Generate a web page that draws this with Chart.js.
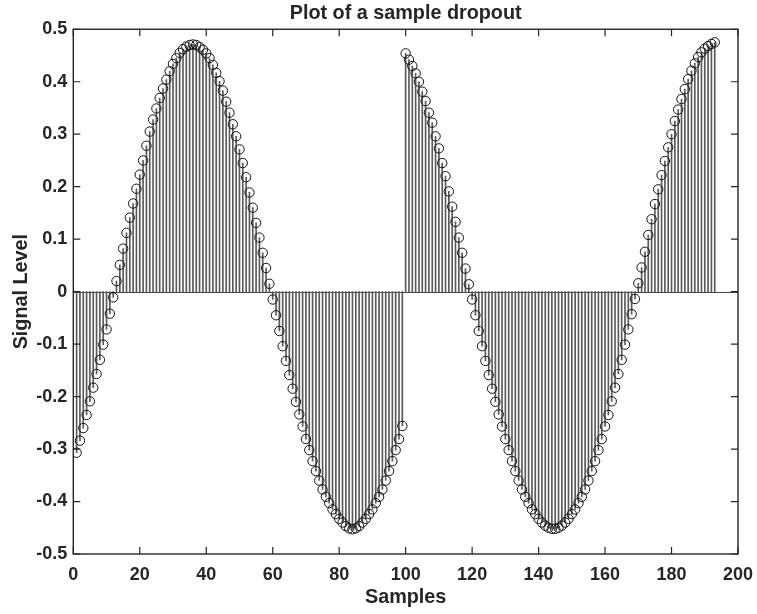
<!DOCTYPE html>
<html><head><meta charset="utf-8">
<script src="https://cdn.jsdelivr.net/npm/chart.js@4.4.1/dist/chart.umd.min.js"></script>
<style>html,body{margin:0;padding:0;background:#fff}#wrap{width:757px;height:614px}</style>
</head><body><div id="wrap"><canvas id="c" width="757" height="614"></canvas></div>
<script>
const samples = [1,2,3,4,5,6,7,8,9,10,11,12,13,14,15,16,17,18,19,20,21,22,23,24,25,26,27,28,29,30,31,32,33,34,35,36,37,38,39,40,41,42,43,44,45,46,47,48,49,50,51,52,53,54,55,56,57,58,59,60,61,62,63,64,65,66,67,68,69,70,71,72,73,74,75,76,77,78,79,80,81,82,83,84,85,86,87,88,89,90,91,92,93,94,95,96,97,98,99,100,101,102,103,104,105,106,107,108,109,110,111,112,113,114,115,116,117,118,119,120,121,122,123,124,125,126,127,128,129,130,131,132,133,134,135,136,137,138,139,140,141,142,143,144,145,146,147,148,149,150,151,152,153,154,155,156,157,158,159,160,161,162,163,164,165,166,167,168,169,170,171,172,173,174,175,176,177,178,179,180,181,182,183,184,185,186,187,188,189,190,191,192,193];
const signal = [
-0.307,-0.284,-0.260,-0.235,-0.209,-0.183,-0.157,-0.130,-0.101,-0.072,
-0.042,-0.011,0.020,0.051,0.082,0.112,0.141,0.168,0.196,0.223,
0.250,0.278,0.305,0.328,0.349,0.369,0.387,0.404,0.420,0.434,
0.445,0.455,0.462,0.467,0.470,0.471,0.470,0.466,0.461,0.454,
0.445,0.432,0.417,0.401,0.383,0.362,0.341,0.319,0.296,0.271,
0.245,0.218,0.189,0.160,0.131,0.103,0.074,0.045,0.015,-0.015,
-0.045,-0.075,-0.104,-0.132,-0.159,-0.185,-0.210,-0.234,-0.257,-0.281,
-0.302,-0.323,-0.342,-0.360,-0.377,-0.391,-0.403,-0.415,-0.424,-0.433,
-0.440,-0.447,-0.451,-0.453,-0.451,-0.447,-0.440,-0.433,-0.424,-0.415,
-0.403,-0.391,-0.377,-0.360,-0.342,-0.323,-0.302,-0.281,-0.256,0.454,
0.442,0.430,0.416,0.400,0.381,0.363,0.341,0.322,0.296,0.273,
0.245,0.220,0.191,0.162,0.133,0.103,0.074,0.044,0.014,-0.015,
-0.045,-0.075,-0.104,-0.132,-0.159,-0.185,-0.210,-0.234,-0.257,-0.281,
-0.302,-0.323,-0.342,-0.360,-0.377,-0.391,-0.403,-0.415,-0.424,-0.433,
-0.440,-0.446,-0.450,-0.452,-0.452,-0.450,-0.446,-0.440,-0.433,-0.424,
-0.415,-0.403,-0.391,-0.377,-0.360,-0.342,-0.323,-0.302,-0.281,-0.257,
-0.235,-0.209,-0.183,-0.157,-0.130,-0.101,-0.072,-0.043,-0.014,0.016,
0.046,0.076,0.108,0.138,0.167,0.195,0.222,0.249,0.275,0.300,
0.325,0.347,0.367,0.386,0.405,0.421,0.435,0.447,0.456,0.463,
0.468,0.472,0.475];
const xTickValues = [0,20,40,60,80,100,120,140,160,180,200];
const yTickValues = [-0.5,-0.4,-0.3,-0.2,-0.1,0,0.1,0.2,0.3,0.4,0.5];
const titleText = 'Plot of a sample dropout';
const xLabel = 'Samples';
const yLabel = 'Signal Level';

const INK = '#262626';
const FONT = "'Liberation Sans', Arial, Helvetica, sans-serif";
const points = samples.map((s, i) => ({x: s, y: signal[i]}));

const framePlugin = {
  id: 'frame',
  beforeDatasetsDraw(chart) {
    const {ctx, chartArea: a, scales: {y}} = chart;
    const y0 = Math.round(y.getPixelForValue(0)) + 0.5;
    ctx.save();
    ctx.strokeStyle = '#444';
    ctx.lineWidth = 1;
    ctx.beginPath();
    ctx.moveTo(a.left, y0);
    ctx.lineTo(a.right, y0);
    ctx.stroke();
    ctx.restore();
  },
  afterDatasetsDraw(chart) {
    const {ctx, chartArea: a, scales: {x, y}} = chart;
    const L = 7;
    ctx.save();
    ctx.strokeStyle = INK;
    ctx.lineWidth = 1.4;
    ctx.strokeRect(a.left, a.top, a.right - a.left, a.bottom - a.top);
    ctx.lineWidth = 1.2;
    ctx.beginPath();
    xTickValues.forEach(v => {
      const px = x.getPixelForValue(v);
      ctx.moveTo(px, a.bottom); ctx.lineTo(px, a.bottom - L);
      ctx.moveTo(px, a.top); ctx.lineTo(px, a.top + L);
    });
    yTickValues.forEach(v => {
      const py = y.getPixelForValue(v);
      ctx.moveTo(a.left, py); ctx.lineTo(a.left + L, py);
      ctx.moveTo(a.right, py); ctx.lineTo(a.right - L, py);
    });
    ctx.stroke();
    ctx.restore();
  }
};

new Chart(document.getElementById('c'), {
  type: 'bar',
  data: {
    datasets: [
      {
        type: 'line',
        label: 'markers',
        data: points,
        showLine: false,
        pointStyle: 'circle',
        pointRadius: 4.7,
        pointBorderWidth: 1,
        pointBorderColor: '#111',
        pointBackgroundColor: 'rgba(0,0,0,0)',
        order: 0
      },
      {
        type: 'bar',
        label: 'stems',
        data: points,
        backgroundColor: '#5a5a5a',
        borderWidth: 0,
        barThickness: 1,
        grouped: false,
        order: 1
      }
    ]
  },
  options: {
    responsive: false,
    animation: false,
    devicePixelRatio: 1,
    layout: {padding: {left: 0, right: 19, top: 0, bottom: 0}},
    plugins: {
      legend: {display: false},
      tooltip: {enabled: false},
      title: {
        display: true,
        text: titleText,
        fullSize: false,
        color: INK,
        font: {family: FONT, size: 19.8, weight: 'bold'},
        padding: {top: 2, bottom: 3.5}
      }
    },
    scales: {
      x: {
        type: 'linear',
        min: 0, max: 200,
        offset: false,
        afterBuildTicks: s => { s.ticks = xTickValues.map(v => ({value: v})); },
        afterFit: s => { s.height = 60; s.paddingLeft = 0; s.paddingRight = 0; },
        grid: {display: false, drawTicks: false},
        border: {display: false},
        ticks: {color: INK, font: {family: FONT, size: 18, weight: 'bold'}, padding: 10, maxRotation: 0, autoSkip: false, callback: v => String(v)},
        title: {display: true, text: xLabel, color: INK, font: {family: FONT, size: 19.8, weight: 'bold'}, padding: {top: 0, bottom: 5}}
      },
      y: {
        type: 'linear',
        min: -0.5, max: 0.5,
        afterBuildTicks: s => { s.ticks = yTickValues.map(v => ({value: v})); },
        afterFit: s => { s.width = 73.3; s.paddingTop = 0; s.paddingBottom = 0; },
        grid: {display: false, drawTicks: false},
        border: {display: false},
        ticks: {color: INK, font: {family: FONT, size: 18, weight: 'bold'}, padding: 6, autoSkip: false, callback: v => String(Math.round(v * 10) / 10)},
        title: {display: true, text: yLabel, color: INK, font: {family: FONT, size: 19.8, weight: 'bold'}, padding: {top: 10, bottom: 0}}
      }
    }
  },
  plugins: [framePlugin]
});
</script>
</body></html>
